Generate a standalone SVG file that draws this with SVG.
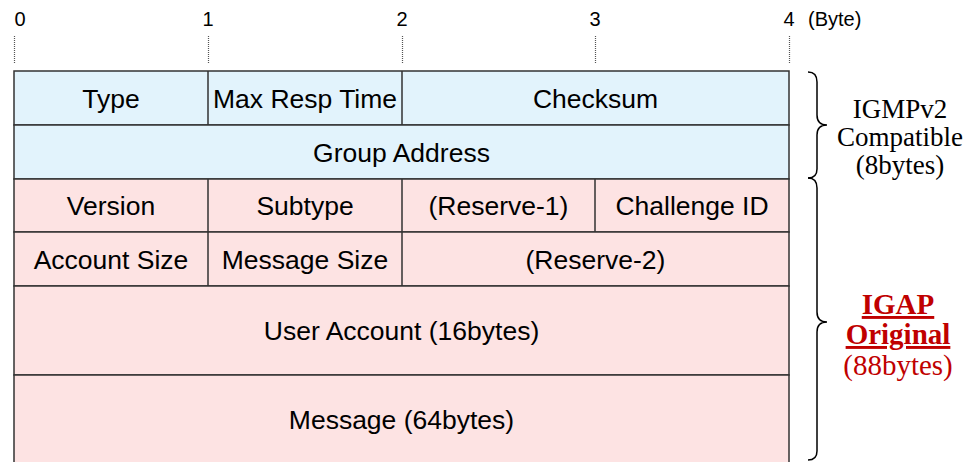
<svg xmlns="http://www.w3.org/2000/svg" width="965" height="462" viewBox="0 0 965 462">
  <style>
    .cell { stroke: #333; stroke-width: 1.5; }
    .blue { fill: #e2f3fc; }
    .pink { fill: #fde3e3; }
    .div { stroke: #333; stroke-width: 1.5; fill: none; }
    .tick { stroke: #555; stroke-width: 1.2; stroke-dasharray: 1 1; fill: none; }
    .lbl { font-family: "Liberation Sans", Arial, sans-serif; font-size: 26.5px; fill: #000; text-anchor: middle; }
    .hdr { font-family: "Liberation Sans", Arial, sans-serif; font-size: 20px; fill: #000; text-anchor: middle; }
    .note { font-family: "Liberation Serif", "Times New Roman", serif; font-size: 27px; fill: #000; text-anchor: middle; }
    .red { font-family: "Liberation Serif", "Times New Roman", serif; font-size: 29px; fill: #c00000; text-anchor: middle; }
    .brace { stroke: #000; stroke-width: 1.5; fill: none; }
  </style>

  <!-- byte scale -->
  <g id="scale">
    <text class="hdr" x="20" y="26">0</text>
    <text class="hdr" x="208" y="26">1</text>
    <text class="hdr" x="402" y="26">2</text>
    <text class="hdr" x="595" y="26">3</text>
    <text class="hdr" x="789" y="26">4</text>
    <text class="hdr" x="808" y="26" style="text-anchor:start">(Byte)</text>
    <path class="tick" d="M14.5 36V63M208.5 36V63M402.5 36V63M595.5 36V63M789.5 36V63"/>
  </g>

  <!-- IGMPv2 compatible part -->
  <g id="row1">
    <rect class="cell blue" x="14" y="71" width="775" height="54"/>
    <path class="div" d="M208 71V125M402 71V125"/>
    <text class="lbl" x="111" y="108">Type</text>
    <text class="lbl" x="305" y="108">Max Resp Time</text>
    <text class="lbl" x="595.5" y="108">Checksum</text>
  </g>
  <g id="row2">
    <rect class="cell blue" x="14" y="125" width="775" height="54"/>
    <text class="lbl" x="401.5" y="162">Group Address</text>
  </g>

  <!-- IGAP original part -->
  <g id="row3">
    <rect class="cell pink" x="14" y="179" width="775" height="53"/>
    <path class="div" d="M208 179V232M402 179V232M595 179V232"/>
    <text class="lbl" x="111" y="215">Version</text>
    <text class="lbl" x="305" y="215">Subtype</text>
    <text class="lbl" x="498.5" y="215">(Reserve-1)</text>
    <text class="lbl" x="692" y="215">Challenge ID</text>
  </g>
  <g id="row4">
    <rect class="cell pink" x="14" y="232" width="775" height="54"/>
    <path class="div" d="M208 232V286M402 232V286"/>
    <text class="lbl" x="111" y="269">Account Size</text>
    <text class="lbl" x="305" y="269">Message Size</text>
    <text class="lbl" x="595.5" y="269">(Reserve-2)</text>
  </g>
  <g id="row5">
    <rect class="cell pink" x="14" y="286" width="775" height="89"/>
    <text class="lbl" x="401.5" y="340">User Account (16bytes)</text>
  </g>
  <g id="row6">
    <rect class="cell pink" x="14" y="375" width="775" height="100"/>
    <text class="lbl" x="401.5" y="429">Message (64bytes)</text>
  </g>

  <!-- braces grouping the header parts -->
  <g id="connectors">
    <path class="brace" d="M808 72C814 72 817 75 817 82V115C817 121 820 125 827 125C820 125 817 129 817 135V169C817 175 814 178 808 178"/>
    <path class="brace" d="M808 178C814 178 817 181 817 188V312C817 318 820 322 827 322C820 322 817 326 817 332V451C817 457 814 460 808 460"/>
  </g>

  <g id="note-igmp">
    <text class="note" x="900" y="118">IGMPv2</text>
    <text class="note" x="900" y="146">Compatible</text>
    <text class="note" x="900" y="174">(8bytes)</text>
  </g>
  <g id="note-igap">
    <text class="red" x="898" y="314" font-weight="bold" text-decoration="underline">IGAP</text>
    <text class="red" x="898" y="344" font-weight="bold" text-decoration="underline">Original</text>
    <text class="red" x="898" y="375">(88bytes)</text>
  </g>
</svg>
